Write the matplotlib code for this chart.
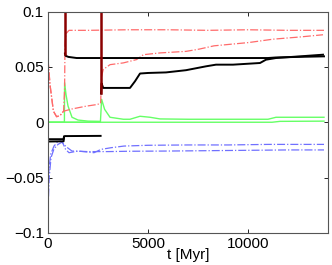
import matplotlib
matplotlib.use('Agg')
import matplotlib.pyplot as plt

plt.rcParams['font.family'] = ['Liberation Sans', 'DejaVu Sans']
plt.rcParams['font.size'] = 11

# upper black curves (with dark red drop-in segments)
t_blk1 = [850, 880, 950, 1020, 1430, 3000, 6000, 9000, 11000, 11400, 12500, 13800]
v_blk1 = [0.062, 0.060, 0.0595, 0.059, 0.058, 0.058, 0.058, 0.058, 0.058, 0.0585, 0.059, 0.0595]

t_blk2 = [2650, 2680, 2760, 3000, 3500, 4100, 4350, 4600, 5000, 5900, 6900, 7900,
          8400, 9250, 10600, 10900, 11400, 12600, 13750]
v_blk2 = [0.026, 0.035, 0.031, 0.031, 0.031, 0.031, 0.037, 0.044, 0.0445, 0.045, 0.047, 0.0505,
          0.052, 0.052, 0.0535, 0.0565, 0.058, 0.0595, 0.061]

t_drk1 = [850, 850]
v_drk1 = [0.1, 0.062]
t_drk2 = [2650, 2650]
v_drk2 = [0.1, 0.026]

# red dash-dot curves
t_redA = [0, 30, 100, 270, 430, 600, 780, 830, 850, 900, 1050, 2000, 4000, 6000, 8000,
          10000, 12000, 13800]
v_redA = [0.057, 0.05, 0.034, 0.010, 0.005, 0.006, 0.010, 0.030, 0.070, 0.080, 0.083, 0.083,
          0.0835, 0.0835, 0.083, 0.0835, 0.083, 0.083]

t_redB = [0, 30, 100, 270, 430, 600, 780, 1200, 1900, 2450, 2630, 2680, 2760, 3100, 3770,
          4430, 4770, 5600, 6900, 7550, 8300, 10050, 11250, 12600, 13750]
v_redB = [0.057, 0.05, 0.034, 0.010, 0.005, 0.006, 0.010, 0.012, 0.0145, 0.016, 0.017, 0.0415,
          0.0476, 0.052, 0.0536, 0.0566, 0.061, 0.0626, 0.064, 0.066, 0.069, 0.072, 0.075,
          0.077, 0.079]

# green curves
t_grn1 = [0, 820, 830, 900, 1000, 1200, 1500, 2000, 2600]
v_grn1 = [0.0, 0.0, 0.0357, 0.025, 0.0147, 0.0045, 0.002, 0.001, 0.0008]

t_grn2 = [0, 2620, 2680, 2830, 3100, 3770, 4100, 4600, 5100, 5600, 7000, 9000, 11000,
          11400, 12500, 13800]
v_grn2 = [0.0, 0.0, 0.0207, 0.0117, 0.0045, 0.0027, 0.0027, 0.0054, 0.0045, 0.003, 0.0027,
          0.0027, 0.0027, 0.0045, 0.0045, 0.0045]

t_grn3 = [0, 11200, 11600, 13800]
v_grn3 = [0.0, 0.0, 0.0008, 0.001]

# lower black curves
t_blk3 = [0, 780, 800, 850, 2630]
v_blk3 = [-0.0153, -0.0153, -0.013, -0.0125, -0.0123]
t_blk4 = [0, 780, 800]
v_blk4 = [-0.0174, -0.0172, -0.013]

# blue dash-dot curves
t_bluA = [0, 50, 130, 300, 470, 630, 720, 880, 1050, 1500, 2300, 2650, 3150, 3800, 5000,
          7000, 9000, 11000, 13800]
v_bluA = [-0.05, -0.043, -0.029, -0.0215, -0.018, -0.017, -0.018, -0.0245, -0.0275, -0.026,
          -0.0275, -0.0245, -0.023, -0.0215, -0.0208, -0.0205, -0.0205, -0.020, -0.020]

t_bluB = [0, 60, 150, 300, 500, 700, 900, 1200, 2000, 3000, 4000, 6000, 9000, 12000, 13800]
v_bluB = [-0.079, -0.05, -0.032, -0.024, -0.02, -0.018, -0.022, -0.026, -0.0265, -0.0265,
          -0.0262, -0.026, -0.0255, -0.025, -0.025]

fig = plt.figure(figsize=(3.32, 2.65), dpi=100)
ax = fig.add_axes([48 / 332, 1 - 233 / 265, 280 / 332, 221.5 / 265])

red = '#ff6b6b'
grn = '#66ff66'
blu = '#7070ff'

ax.plot(t_grn3, v_grn3, color=grn, lw=1.0)
ax.plot(t_grn1, v_grn1, color=grn, lw=1.0)
ax.plot(t_grn2, v_grn2, color=grn, lw=1.0)
ax.plot(t_redA, v_redA, color=red, lw=0.9, linestyle='-.')
ax.plot(t_redB, v_redB, color=red, lw=0.9, linestyle='-.')
ax.plot(t_bluA, v_bluA, color=blu, lw=0.9, linestyle='-.')
ax.plot(t_bluB, v_bluB, color=blu, lw=0.9, linestyle='-.')
ax.plot(t_blk1, v_blk1, color='black', lw=1.4)
ax.plot(t_blk2, v_blk2, color='black', lw=1.4)
ax.plot(t_blk3, v_blk3, color='black', lw=1.4)
ax.plot(t_blk4, v_blk4, color='black', lw=1.4)
ax.plot(t_drk1, v_drk1, color='#8b0000', lw=1.8)
ax.plot(t_drk2, v_drk2, color='#8b0000', lw=1.8)

ax.set_xlim(0, 14000)
ax.set_ylim(-0.1, 0.1)
ax.set_xticks([0, 5000, 10000])
ax.set_yticks([-0.1, -0.05, 0, 0.05, 0.1])
ax.set_yticklabels(['\u22120.1', '\u22120.05', '0', '0.05', '0.1'])
ax.tick_params(direction='in', length=3, width=0.6, top=True, right=True, pad=3)
for s in ax.spines.values():
    s.set_linewidth(0.8)
    s.set_color('#555555')
ax.set_xlabel('t [Myr]', labelpad=-2)

fig.savefig('out.png', dpi=100)
